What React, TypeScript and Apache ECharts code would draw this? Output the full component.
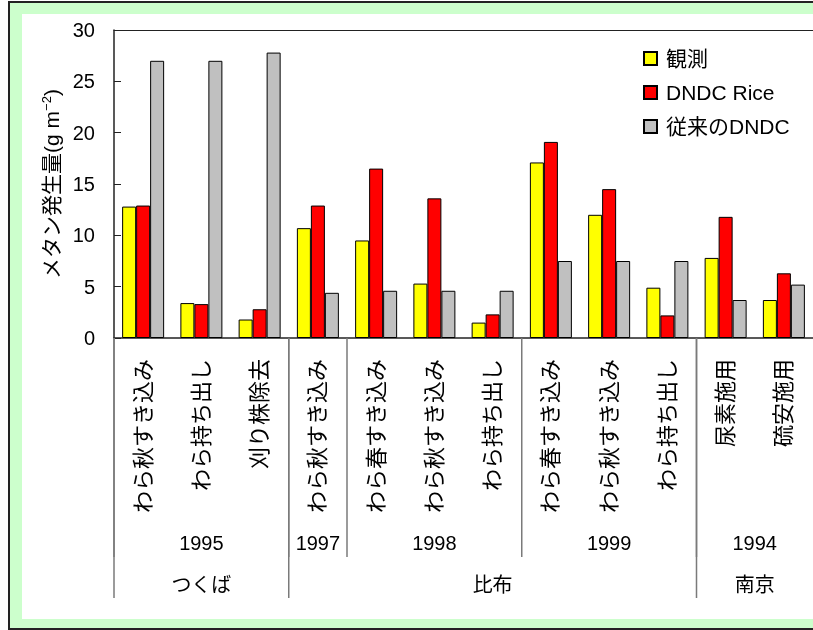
import React, { useEffect, useRef } from "react";
import * as echarts from "echarts";

const categories = [
  "わら秋すき込み", "わら持ち出し", "刈り株除去",
  "わら秋すき込み",
  "わら春すき込み", "わら秋すき込み", "わら持ち出し",
  "わら春すき込み", "わら秋すき込み", "わら持ち出し",
  "尿素施用", "硫安施用",
];
const observed = [12.8, 3.4, 1.8, 10.7, 9.5, 5.3, 1.5, 17.1, 12.0, 4.9, 7.8, 3.7];
const dndcRice = [12.9, 3.3, 2.8, 12.9, 16.5, 13.6, 2.3, 19.1, 14.5, 2.2, 11.8, 6.3];
const dndcOld = [27.0, 27.0, 27.8, 4.4, 4.6, 4.6, 4.6, 7.5, 7.5, 7.5, 3.7, 5.2];

const yearLabels = ["1995", "1997", "1998", "1999", "1994"];
const yearFrom = [0, 3, 4, 7, 10];
const yearTo = [2, 3, 6, 9, 11];
const siteLabels = ["つくば", "比布", "南京"];
const siteFrom = [0, 3, 10];
const siteTo = [2, 9, 11];

const seriesNames = ["観測", "DNDC Rice", "従来のDNDC"];
const seriesColors = ["#FFFF00", "#FF0000", "#C0C0C0"];

const FONT = "'Liberation Sans', Arial, 'Noto Sans CJK JP', sans-serif";

function groupRenderer(labels: string[], labelOffset: number, lineLen: number) {
  return (params: any, api: any) => {
    const from = api.value(0);
    const to = api.value(1);
    const band = api.size([1, 0])[0];
    const p0 = api.coord([from, 0]);
    const p1 = api.coord([to, 0]);
    const x0 = p0[0] - band / 2;
    const x1 = p1[0] + band / 2;
    const y0 = p0[1];
    return {
      type: "group",
      children: [
        {
          type: "line",
          shape: { x1: x0, y1: y0, x2: x0, y2: y0 + lineLen },
          style: { stroke: "#7a7a7a", lineWidth: 1.5 },
        },
        {
          type: "text",
          x: (x0 + x1) / 2,
          y: y0 + labelOffset,
          style: {
            text: labels[params.dataIndex],
            fill: "#000",
            font: `20px ${FONT}`,
            align: "center",
            verticalAlign: "middle",
          },
        },
      ],
    };
  };
}

export default function App() {
  const ref = useRef<HTMLDivElement>(null);
  useEffect(() => {
    if (!ref.current) return;
    const chart = echarts.init(ref.current, null, { renderer: "svg" });
    const barSeries = [observed, dndcRice, dndcOld].map((d, i) => ({
      name: seriesNames[i],
      type: "bar",
      xAxisIndex: 0,
      yAxisIndex: 0,
      data: d,
      barWidth: 14,
      barGap: "0%",
      itemStyle: { color: seriesColors[i], borderColor: "#000", borderWidth: 1 },
    }));
    chart.setOption({
      animation: false,
      textStyle: { fontFamily: FONT },
      graphic: [
        {
          type: "rect",
          z: -10,
          shape: { x: 9, y: 2, width: 900, height: 627 },
          style: { fill: "#CCFFCC", stroke: "#222", lineWidth: 2 },
        },
        {
          type: "rect",
          z: -9,
          shape: { x: 22, y: 14, width: 900, height: 605 },
          style: { fill: "#FFFFFF" },
        },
      ],
      grid: { left: 114, top: 30, right: 0, bottom: 292, containLabel: false },
      legend: {
        orient: "vertical",
        left: 643,
        top: 48,
        padding: 0,
        itemWidth: 13,
        itemHeight: 13,
        itemGap: 13,
        icon: "rect",
        data: seriesNames,
        textStyle: { fontSize: 21, color: "#000", lineHeight: 20, padding: [0, 0, 0, 4], fontFamily: FONT },
      },
      xAxis: [
        {
          type: "category",
          data: categories,
          position: "bottom",
          axisLine: { show: true, lineStyle: { color: "#222", width: 1.5 } },
          axisTick: { show: false },
          axisLabel: {
            rotate: 90,
            interval: 0,
            margin: 21,
            fontSize: 22,
            color: "#000",
            fontFamily: FONT,
          },
        },
        {
          type: "category",
          data: categories,
          position: "top",
          axisLine: { show: true, lineStyle: { color: "#222", width: 1 } },
          axisTick: { show: false },
          axisLabel: { show: false },
        },
      ],
      yAxis: {
        type: "value",
        min: 0,
        max: 30,
        interval: 5,
        name: "{a|メタン発生量(g m}{s|−2}{a|)}",
        nameLocation: "middle",
        nameRotate: 90,
        nameGap: 52,
        nameTextStyle: {
          rich: {
            a: { fontSize: 21, color: "#000", fontFamily: FONT, lineHeight: 22 },
            s: { fontSize: 13, color: "#000", fontFamily: FONT, verticalAlign: "top", lineHeight: 22 },
          },
        },
        axisLine: { show: true, lineStyle: { color: "#222", width: 1.5 } },
        axisTick: { show: true, inside: true, length: 7, lineStyle: { color: "#222" } },
        axisLabel: { fontSize: 20, color: "#000", margin: 19, fontFamily: FONT },
        splitLine: { show: false },
      },
      series: [
        ...barSeries,
        {
          type: "custom",
          name: "years",
          xAxisIndex: 0,
          yAxisIndex: 0,
          clip: false,
          silent: true,
          encode: { x: [0, 1], y: 2 },
          data: yearFrom.map((f, i) => [f, yearTo[i], 0]),
          renderItem: groupRenderer(yearLabels, 205, 219),
        },
        {
          type: "custom",
          name: "sites",
          xAxisIndex: 0,
          yAxisIndex: 0,
          clip: false,
          silent: true,
          encode: { x: [0, 1], y: 2 },
          data: siteFrom.map((f, i) => [f, siteTo[i], 0]),
          renderItem: groupRenderer(siteLabels, 247, 260),
        },
      ],
    });
    return () => chart.dispose();
  }, []);
  return (
    <div
      ref={ref}
      style={{ position: "fixed", left: 0, top: 0, width: 813, height: 630 }}
    />
  );
}
